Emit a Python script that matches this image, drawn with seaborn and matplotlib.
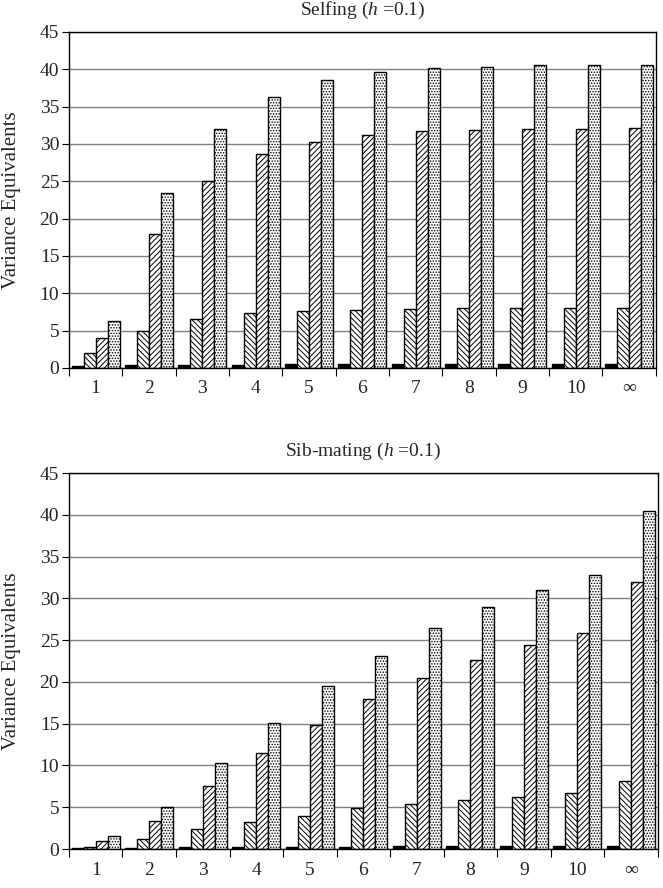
"""
Variance equivalents by generation, selfing vs sib-mating (h = 0.1).
"""
import matplotlib

matplotlib.use("Agg")
import matplotlib.pyplot as plt
import pandas as pd
import seaborn as sns

generations = ["1", "2", "3", "4", "5", "6", "7", "8", "9", "10", "\u221e"]
series = ["s1", "s2", "s3", "s4"]

selfing_s1 = [0.25, 0.35, 0.4, 0.45, 0.47, 0.48, 0.5, 0.5, 0.5, 0.5, 0.5]
selfing_s2 = [2.0, 5.0, 6.5, 7.3, 7.6, 7.8, 7.9, 8.0, 8.0, 8.0, 8.0]
selfing_s3 = [4.0, 18.0, 25.0, 28.6, 30.3, 31.2, 31.7, 31.9, 32.0, 32.0, 32.1]
selfing_s4 = [6.25, 23.4, 32.0, 36.3, 38.5, 39.6, 40.1, 40.3, 40.5, 40.6, 40.6]

sib_s1 = [0.15, 0.18, 0.2, 0.2, 0.22, 0.25, 0.4, 0.4, 0.4, 0.4, 0.4]
sib_s2 = [0.3, 1.2, 2.4, 3.2, 4.0, 4.9, 5.4, 5.9, 6.2, 6.7, 8.1]
sib_s3 = [1.0, 3.4, 7.5, 11.5, 14.9, 18.0, 20.5, 22.6, 24.4, 25.8, 31.9]
sib_s4 = [1.6, 5.0, 10.3, 15.1, 19.5, 23.1, 26.4, 29.0, 31.0, 32.8, 40.4]

titles = ["Selfing ($\\it{h}$ =0.1)", "Sib-mating ($\\it{h}$ =0.1)"]

sns.set_style("white")
plt.rcParams["font.family"] = ["Liberation Serif", "DejaVu Serif"]
plt.rcParams["mathtext.fontset"] = "custom"
plt.rcParams["mathtext.rm"] = "Liberation Serif"
plt.rcParams["mathtext.it"] = "Liberation Serif:italic"
plt.rcParams["hatch.linewidth"] = 0.7


def long_form(cols):
    rows = []
    for name, vals in zip(series, cols):
        for g, v in zip(generations, vals):
            rows.append({"gen": g, "series": name, "value": v})
    return pd.DataFrame(rows)


fig = plt.figure(figsize=(6.63, 8.88), dpi=100)
ax_top = fig.add_axes([0.104, 0.5856, 0.885, 0.3786])
ax_bot = fig.add_axes([0.104, 0.0439, 0.888, 0.4234])

panels = [
    (ax_top, long_form([selfing_s1, selfing_s2, selfing_s3, selfing_s4])),
    (ax_bot, long_form([sib_s1, sib_s2, sib_s3, sib_s4])),
]
palette = {"s1": "black", "s2": "white", "s3": "white", "s4": "white"}
hatches = [None, "\\\\\\\\\\\\", "//////", "......"]

for (ax, df), title in zip(panels, titles):
    sns.barplot(
        data=df, x="gen", y="value", hue="series", order=generations,
        hue_order=series, palette=palette, width=0.9, edgecolor="black",
        linewidth=1.0, legend=False, ax=ax, saturation=1,
    )
    for cont, h in zip(ax.containers, hatches):
        for bar in cont:
            if h:
                bar.set_hatch(h)
    ax.set_xlim(-0.5, 10.5)
    ax.set_ylim(0, 45)
    ax.set_yticks(range(0, 46, 5))
    ax.yaxis.grid(True, color="#808080", linewidth=1.0)
    ax.set_axisbelow(True)
    ax.set_xticks(range(len(generations)))
    ax.set_xticklabels(generations)
    ax.set_xticks([i - 0.5 for i in range(len(generations) + 1)], minor=True)
    ax.tick_params(axis="x", which="major", length=0, pad=9, labelsize=14)
    ax.tick_params(axis="x", which="minor", length=6, width=0.8, color="black", direction="out", bottom=True)
    ax.tick_params(axis="y", length=5, width=0.8, color="black", direction="out", left=True, labelsize=14, pad=2)
    for sp in ax.spines.values():
        sp.set_visible(True)
        sp.set_color("black")
        sp.set_linewidth(1.0)
    ax.set_xlabel("")
    ax.set_ylabel("Variance Equivalents", fontsize=15)
    ax.yaxis.set_label_coords(-0.081, 0.5)
    ax.set_title(title, fontsize=14, pad=12)

fig.savefig("out.png", dpi=100)
